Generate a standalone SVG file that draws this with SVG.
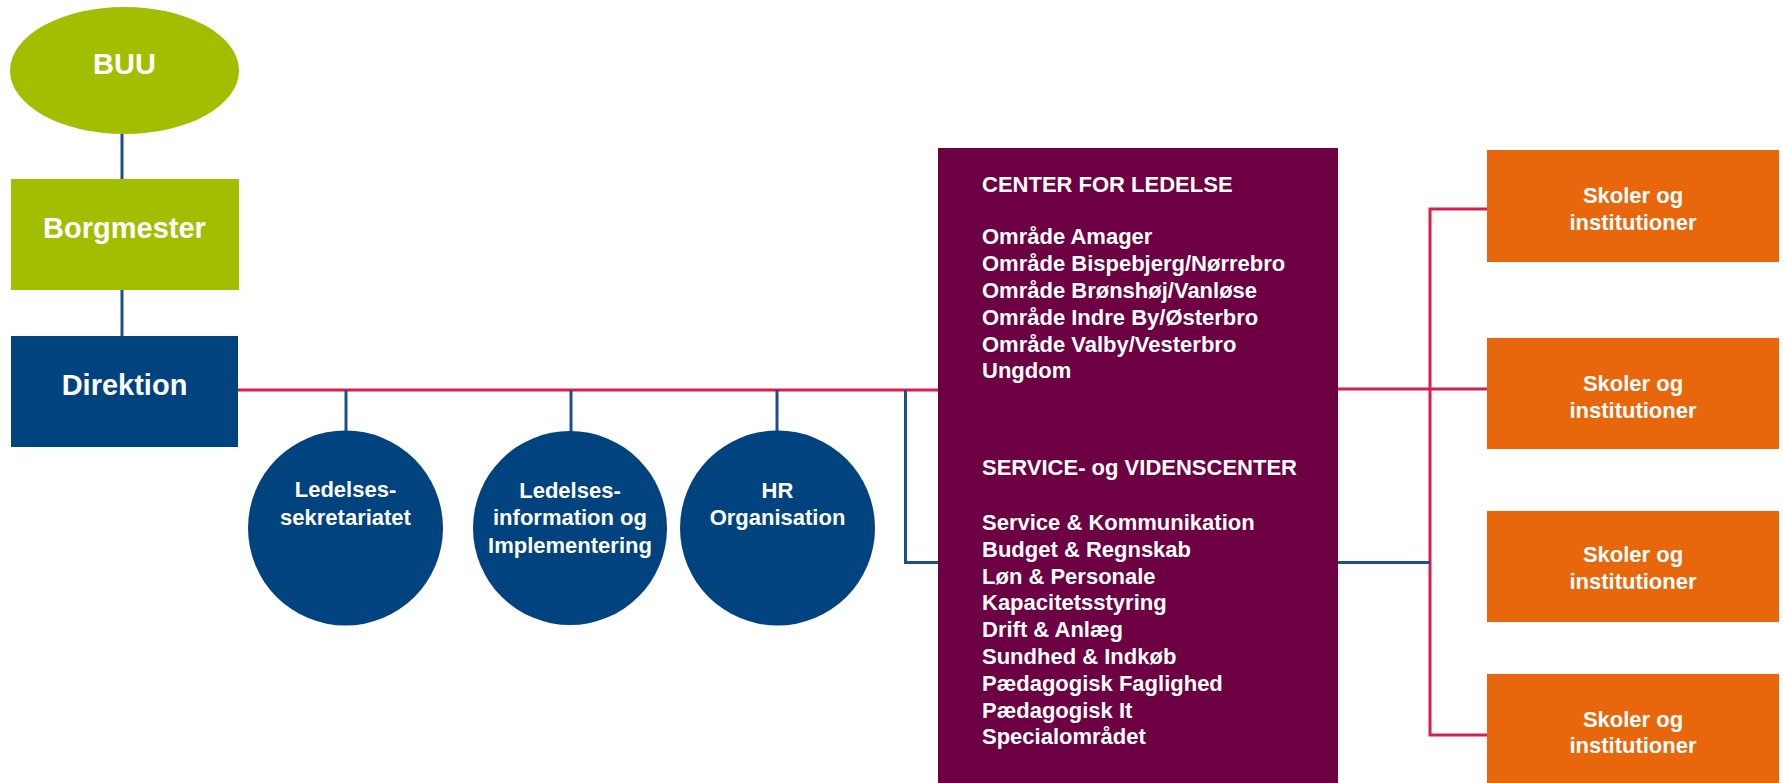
<svg xmlns="http://www.w3.org/2000/svg" width="1783" height="783" viewBox="0 0 1783 783">
<style>
.t{font-family:"Liberation Sans",Arial,sans-serif;font-weight:bold;fill:#ffffff}
.big{font-size:29px;text-anchor:middle}
.mid{font-size:22px;text-anchor:middle}
.lst{font-size:22px}
.pink{stroke:#d6204c;stroke-width:3;fill:none}
.blue{stroke:#1d4f8c;stroke-width:3;fill:none}
.green{fill:#a3bd00}
.navy{fill:#00437f}
.orange{fill:#e8670c}
</style>
<rect width="1783" height="783" fill="#ffffff"/>
<g id="connectors">
<line class="blue" x1="122" y1="134" x2="122" y2="179"/>
<line class="blue" x1="122" y1="290" x2="122" y2="336"/>
<line class="pink" x1="238" y1="390" x2="938" y2="390"/>
<line class="blue" x1="346" y1="390" x2="346" y2="432"/>
<line class="blue" x1="571" y1="390" x2="571" y2="432"/>
<line class="blue" x1="777" y1="390" x2="777" y2="432"/>
<polyline class="blue" points="905.5,390 905.5,562.5 938,562.5"/>
<line class="pink" x1="1338" y1="389" x2="1487" y2="389"/>
<polyline class="pink" points="1487,209 1430,209 1430,735 1487,735"/>
<line class="blue" x1="1338" y1="562.5" x2="1430" y2="562.5"/>
</g>
<g id="buu">
<ellipse class="green" cx="124.5" cy="70.5" rx="114.5" ry="63.5"/>
<text class="t big" x="124.5" y="74">BUU</text>
</g>
<g id="borgmester">
<rect class="green" x="11" y="179" width="228" height="111"/>
<text class="t big" x="124.5" y="237.5">Borgmester</text>
</g>
<g id="direktion">
<rect class="navy" x="11" y="336" width="227" height="111"/>
<text class="t big" x="124.5" y="395">Direktion</text>
</g>
<g id="ledelsessekretariatet">
<circle class="navy" cx="345.5" cy="528" r="97.5"/>
<text class="t mid" x="345.5" y="497">Ledelses-</text>
<text class="t mid" x="345.5" y="524.5">sekretariatet</text>
</g>
<g id="ledelsesinformation">
<circle class="navy" cx="570" cy="528" r="97"/>
<text class="t mid" x="570" y="497.5">Ledelses-</text>
<text class="t mid" x="570" y="525">information og</text>
<text class="t mid" x="570" y="552.5">Implementering</text>
</g>
<g id="hr-organisation">
<circle class="navy" cx="777.5" cy="528" r="97.5"/>
<text class="t mid" x="777.5" y="497.5">HR</text>
<text class="t mid" x="777.5" y="524.5">Organisation</text>
</g>
<g id="center">
<rect x="938" y="148" width="400" height="645" fill="#6c0042"/>
<text class="t lst" x="982" y="191.5">CENTER FOR LEDELSE</text>
<text class="t lst" x="982" y="244.3">Område Amager</text>
<text class="t lst" x="982" y="271.1">Område Bispebjerg/Nørrebro</text>
<text class="t lst" x="982" y="297.9">Område Brønshøj/Vanløse</text>
<text class="t lst" x="982" y="324.7">Område Indre By/Østerbro</text>
<text class="t lst" x="982" y="351.5">Område Valby/Vesterbro</text>
<text class="t lst" x="982" y="378.3">Ungdom</text>
<text class="t lst" x="982" y="475">SERVICE- og VIDENSCENTER</text>
<text class="t lst" x="982" y="530">Service &amp; Kommunikation</text>
<text class="t lst" x="982" y="556.8">Budget &amp; Regnskab</text>
<text class="t lst" x="982" y="583.6">Løn &amp; Personale</text>
<text class="t lst" x="982" y="610.4">Kapacitetsstyring</text>
<text class="t lst" x="982" y="637.2">Drift &amp; Anlæg</text>
<text class="t lst" x="982" y="664">Sundhed &amp; Indkøb</text>
<text class="t lst" x="982" y="690.8">Pædagogisk Faglighed</text>
<text class="t lst" x="982" y="717.6">Pædagogisk It</text>
<text class="t lst" x="982" y="744.4">Specialområdet</text>
</g>
<g id="skoler1">
<rect class="orange" x="1487" y="150" width="292" height="112"/>
<text class="t mid" x="1633" y="202.5">Skoler og</text>
<text class="t mid" x="1633" y="229.5">institutioner</text>
</g>
<g id="skoler2">
<rect class="orange" x="1487" y="338" width="292" height="111"/>
<text class="t mid" x="1633" y="391">Skoler og</text>
<text class="t mid" x="1633" y="417.5">institutioner</text>
</g>
<g id="skoler3">
<rect class="orange" x="1487" y="511" width="292" height="111"/>
<text class="t mid" x="1633" y="562">Skoler og</text>
<text class="t mid" x="1633" y="589">institutioner</text>
</g>
<g id="skoler4">
<rect class="orange" x="1487" y="674" width="292" height="115"/>
<text class="t mid" x="1633" y="726.5">Skoler og</text>
<text class="t mid" x="1633" y="753">institutioner</text>
</g>
</svg>
